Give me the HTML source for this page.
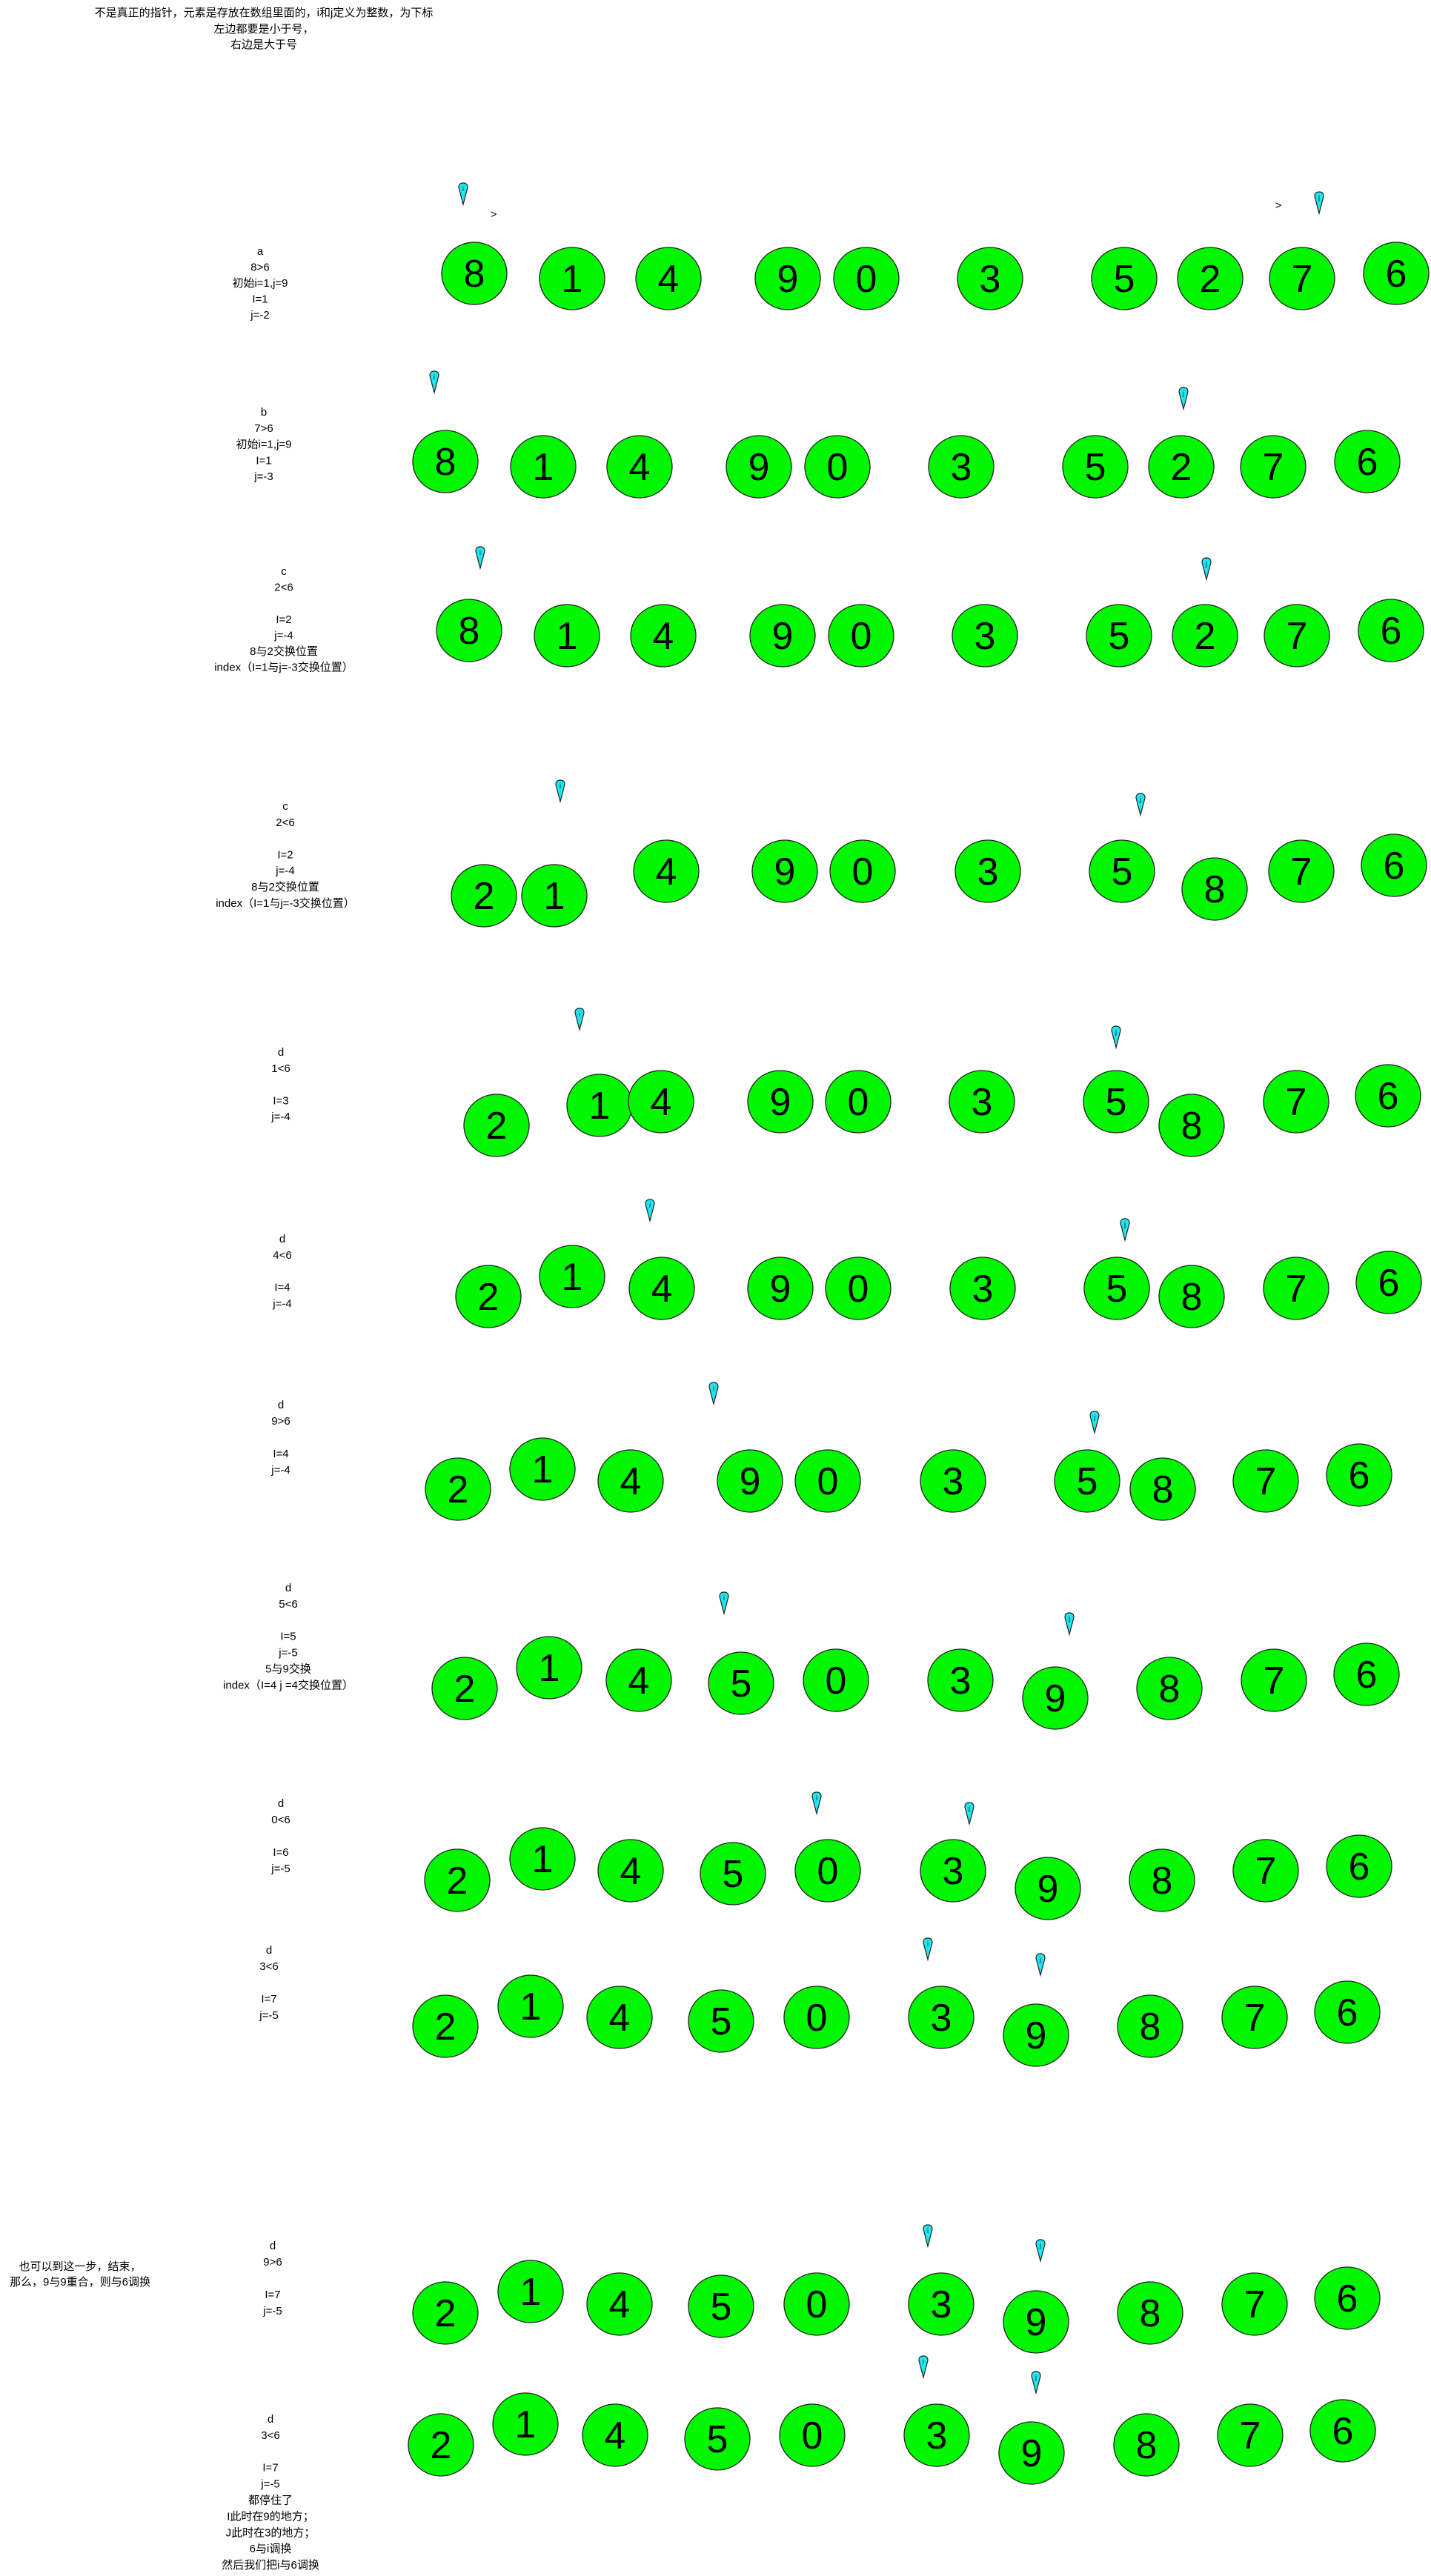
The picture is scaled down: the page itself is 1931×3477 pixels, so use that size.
<!DOCTYPE html>
<html><head><meta charset="utf-8">
<style>
html,body{margin:0;padding:0;background:#fff;}
svg{display:block;}
text{font-family:"Liberation Sans","Noto Sans CJK SC",sans-serif;}
</style></head>
<body>
<svg id="board" width="1931" height="3477" viewBox="0 0 1931 3477" xmlns="http://www.w3.org/2000/svg">
<g font-size="15" text-anchor="middle" fill="#000">
<text x="356" y="22">不是真正的指针，元素是存放在数组里面的，i和j定义为整数，为下标</text>
<text x="356" y="44">左边都要是小于号，</text>
<text x="356" y="65">右边是大于号</text>
</g>
<text x="666" y="294" font-size="15" text-anchor="middle">&gt;</text>
<text x="1725" y="282" font-size="15" text-anchor="middle">&gt;</text>
<g font-size="15" text-anchor="middle">
<text x="108" y="3064">也可以到这一步，结束，</text>
<text x="108" y="3085">那么，9与9重合，则与6调换</text>
</g>
<g id="rows"></g>
</svg>
<script>
// per-row digits
const rowDigits = [
 [8,1,4,9,0,3,5,2,7,6],
 [8,1,4,9,0,3,5,2,7,6],
 [8,1,4,9,0,3,5,2,7,6],
 [2,1,4,9,0,3,5,8,7,6],
 [2,1,4,9,0,3,5,8,7,6],
 [2,1,4,9,0,3,5,8,7,6],
 [2,1,4,9,0,3,5,8,7,6],
 [2,1,4,5,0,3,9,8,7,6],
 [2,1,4,5,0,3,9,8,7,6],
 [2,1,4,5,0,3,9,8,7,6],
 [2,1,4,5,0,3,9,8,7,6],
 [2,1,4,5,0,3,9,8,7,6]
];
const rowX = [
 [640,772,902,1063,1169,1336,1517,1633,1757,1884],
 [601,733,863,1024,1130,1297,1478,1594,1718,1845],
 [633,765,895,1056,1162,1329,1510,1626,1750,1877],
 [653,748,899,1059,1164,1333,1514,1639,1756,1881],
 [670,809,892,1053,1158,1325,1506,1608,1749,1873],
 [659,772,893,1053,1158,1326,1507,1608,1749,1874],
 [618,732,851,1012,1117,1286,1467,1569,1708,1834],
 [627,741,862,1000,1128,1296,1424,1578,1719,1844],
 [617,732,851,989,1117,1286,1414,1568,1708,1834],
 [601,716,836,973,1102,1270,1398,1552,1693,1818],
 [601,716,836,973,1102,1270,1398,1552,1693,1818],
 [595,709,830,968,1096,1264,1392,1547,1687,1812]
];
const rowY = [
 [369,376,376,376,376,376,376,376,376,369],
 [623,630,630,630,630,630,630,630,630,623],
 [851,858,858,858,858,858,858,858,858,851],
 [1209,1209,1176,1176,1176,1176,1176,1200,1176,1168],
 [1519,1492,1487,1487,1487,1487,1487,1519,1487,1479],
 [1750,1723,1739,1739,1739,1739,1739,1750,1739,1731],
 [2010,1983,1999,1999,1999,1999,1999,2010,1999,1991],
 [2279,2251,2268,2272,2268,2268,2292,2279,2268,2260],
 [2538,2509,2525,2529,2525,2525,2549,2538,2525,2519],
 [2735,2708,2723,2728,2723,2723,2747,2735,2723,2716],
 [3122,3093,3110,3113,3110,3110,3134,3122,3110,3102],
 [3300,3272,3287,3292,3287,3287,3311,3300,3287,3281]
];
// pointer centers [ix, iy, jx, jy]
const pointers = [
 [625,261,1780,273],[586,515,1597,537],[648,752,1628,767],[756,1067,1539,1085],
 [782,1375,1506,1399],[877,1633,1518,1659],[963,1880,1477,1919],[977,2163,1443,2191],
 [1102,2433,1308,2447],[1252,2630,1404,2651],[1252,3017,1404,3037],[1246,3194,1398,3215]
];
const labelLines = [
 ["a","8>6","初始i=1,j=9","I=1","j=-2"],
 ["b","7>6","初始i=1,j=9","I=1","j=-3"],
 ["c","2<6","","I=2","j=-4","8与2交换位置","index（I=1与j=-3交换位置）"],
 ["c","2<6","","I=2","j=-4","8与2交换位置","index（I=1与j=-3交换位置）"],
 ["d","1<6","","I=3","j=-4"],
 ["d","4<6","","I=4","j=-4"],
 ["d","9>6","","I=4","j=-4"],
 ["d","5<6","","I=5","j=-5","5与9交换","index（I=4 j =4交换位置）"],
 ["d","0<6","","I=6","j=-5"],
 ["d","3<6","","I=7","j=-5"],
 ["d","9>6","","I=7","j=-5"],
 ["d","3<6","","I=7","j=-5","都停住了","I此时在9的地方；","J此时在3的地方；","6与i调换","然后我们把i与6调换"]
];
const labelPos = [[351,339],[356,556],[383,771],[385,1088],[379,1420],[381,1672],[379,1896],[389,2143],[379,2434],[363,2632],[368,3031],[365,3265]];
const lineGap = [21.5,21.8,21.6,21.8,21.8,21.9,22,21.9,22,22,22,21.9];

const NS='http://www.w3.org/2000/svg';
const root=document.getElementById('rows');
function mk(tag,attrs){const e=document.createElementNS(NS,tag);for(const k in attrs)e.setAttribute(k,attrs[k]);return e;}
function pointer(g,x,y,letter,name){
  const p=mk('g',{transform:'translate('+x+','+(y-14)+')'});
  
  
  p.appendChild(mk('path',{d:'M-6,6 Q-6,0 0,0 Q6,0 6,6 L0,29 Z',fill:'#1ee6f0',stroke:'#222','stroke-width':'1.2'}));
  const t=mk('text',{x:0,y:11,'font-size':'9','text-anchor':'middle',fill:'#000'});t.textContent=letter;p.appendChild(t);
  g.appendChild(p);
}
rowDigits.forEach((digits,r)=>{
  const g=mk('g',{});
  
  
  const lab=mk('g',{'font-size':'15','text-anchor':'middle'});
  
  
  labelLines[r].forEach((s,k)=>{const t=mk('text',{x:labelPos[r][0],y:labelPos[r][1]+5+k*lineGap[r]});t.textContent=s;lab.appendChild(t);});
  g.appendChild(lab);
  digits.forEach((d,k)=>{
    const c=mk('g',{});
    
    
    c.appendChild(mk('ellipse',{cx:rowX[r][k],cy:rowY[r][k],rx:44,ry:42,fill:'#00f700',stroke:'#222','stroke-width':'1.3'}));
    const t=mk('text',{x:rowX[r][k],y:rowY[r][k]+18,'font-size':'52','text-anchor':'middle',fill:'#000'});t.textContent=d;c.appendChild(t);
    g.appendChild(c);
  });
  pointer(g,pointers[r][0],pointers[r][1],'i','pointer-i');
  pointer(g,pointers[r][2],pointers[r][3],'j','pointer-j');
  root.appendChild(g);
});
</script>
</body></html>
